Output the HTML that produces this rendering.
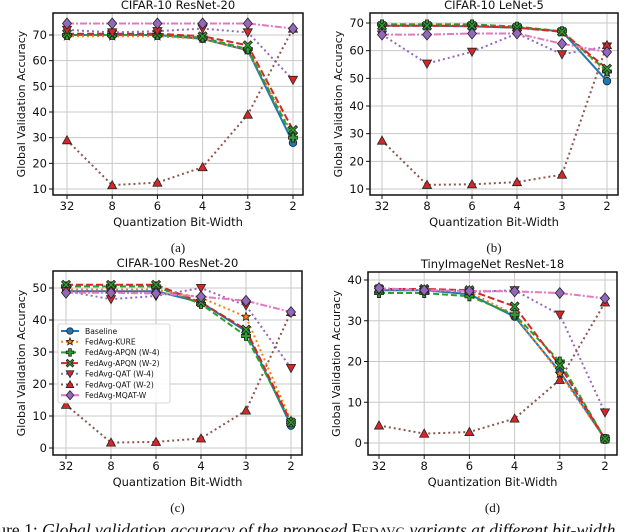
<!DOCTYPE html>
<html><head><meta charset="utf-8"><style>
html,body{margin:0;padding:0;background:#fff;width:640px;height:532px;overflow:hidden}
svg{display:block}
text{font-family:"DejaVu Sans","Liberation Sans",sans-serif;fill:#111}
.serif{font-family:"Liberation Serif",serif}
</style></head><body>
<svg id="fig" width="640" height="532" viewBox="0 0 640 532" xmlns="http://www.w3.org/2000/svg"></svg>
<script>
const categories = ["32","8","6","4","3","2"];
const seriesNames = ["Baseline","FedAvg-KURE","FedAvg-APQN (W-4)","FedAvg-APQN (W-2)","FedAvg-QAT (W-4)","FedAvg-QAT (W-2)","FedAvg-MQAT-W"];
// (a) CIFAR-10 ResNet-20
const aBaseline = [70,70,70,68.5,64,28];
const aKure = [69.5,69.5,69.5,68.5,64,31];
const aApqn4 = [70,70,70,69,64.5,30];
const aApqn2 = [70.5,70.5,70.5,69.5,66,33];
const aQat4 = [72,71,71.5,72.5,71,52.5];
const aQat2 = [29,11.5,12.5,18.5,39,72.5];
const aMqat = [74.5,74.5,74.5,74.5,74.5,72.5];
const aTicks = [10,20,30,40,50,60,70];
// (b) CIFAR-10 LeNet-5
const bBaseline = [69,69,68.8,68.3,67,49];
const bKure = [69,69,69,68.5,67,52];
const bApqn4 = [69.5,69.5,69.5,68.7,67,52.5];
const bApqn2 = [69,69,69,68.3,66.8,53.5];
const bQat4 = [65.8,55.3,59.6,66.2,58.7,61.5];
const bQat2 = [27.5,11.5,11.7,12.5,15.2,62];
const bMqat = [65.8,65.8,66.2,66.2,62.5,59.5];
const bTicks = [10,20,30,40,50,60,70];
// (c) CIFAR-100 ResNet-20
const cBaseline = [49,49,49,45.5,36.5,7];
const cKure = [49.5,49.5,49.5,47,41,8.5];
const cApqn4 = [50.5,50.5,50.5,45,35,8];
const cApqn2 = [51,51,51,45.5,37,8];
const cQat4 = [49,46.5,47.5,50,44.5,25];
const cQat2 = [13.5,1.7,1.9,3,11.7,42.5];
const cMqat = [48.5,48.5,48.3,47.3,46,42.5];
const cTicks = [0,10,20,30,40,50];
// (d) TinyImageNet ResNet-18
const dBaseline = [37.5,37.5,36.5,31,17.5,1];
const dKure = [37.5,37.5,37,31.5,17,1];
const dApqn4 = [36.8,36.8,36,31.5,20,1];
const dApqn2 = [37.8,37.8,37.5,33.5,19,1];
const dQat4 = [37.5,37.5,37,37.5,31.5,7.5];
const dQat2 = [4.3,2.3,2.7,6,15.5,34.5];
const dMqat = [38,37.5,37.3,37.2,36.8,35.5];
const dTicks = [0,10,20,30,40];

const NS="http://www.w3.org/2000/svg";
const svg=document.getElementById('fig');
function el(tag,attrs,parent){const e=document.createElementNS(NS,tag);for(const k in attrs)e.setAttribute(k,attrs[k]);(parent||svg).appendChild(e);return e;}

const styles=[
 {c:"#1f77b4",dash:"",m:"circle",f:"#1f77b4"},
 {c:"#ff7f0e",dash:"2,3",m:"star",f:"#ff7f0e"},
 {c:"#2ca02c",dash:"6,3",m:"plus",f:"#2ca02c"},
 {c:"#d62728",dash:"7,3",m:"x",f:"#2ca02c"},
 {c:"#9467bd",dash:"2,3",m:"tdown",f:"#d62728"},
 {c:"#8c564b",dash:"2,3",m:"tup",f:"#d62728"},
 {c:"#e377c2",dash:"7,2,2,2",m:"diamond",f:"#9467bd"}
];
function marker(g,type,x,y,fill,s){
 s=s||4.5;let d;
 const a={fill:fill,stroke:"#222","stroke-width":0.8};
 if(type==="circle"){a.cx=x;a.cy=y;a.r=s*0.85;return el('circle',a,g);}
 if(type==="diamond")d=`M${x},${y-s*1.2}L${x+s},${y}L${x},${y+s*1.2}L${x-s},${y}Z`;
 else if(type==="tup")d=`M${x},${y-s}L${x+s},${y+s*0.8}L${x-s},${y+s*0.8}Z`;
 else if(type==="tdown")d=`M${x},${y+s}L${x+s},${y-s*0.8}L${x-s},${y-s*0.8}Z`;
 else if(type==="star"){d="";for(let i=0;i<10;i++){const r=i%2?s*0.45:s;const an=-Math.PI/2+i*Math.PI/5;d+=(i?"L":"M")+(x+r*Math.cos(an)).toFixed(2)+","+(y+r*Math.sin(an)).toFixed(2);}d+="Z";}
 else if(type==="plus"){const t=s*0.35;d=`M${x-t},${y-s}H${x+t}V${y-t}H${x+s}V${y+t}H${x+t}V${y+s}H${x-t}V${y+t}H${x-s}V${y-t}H${x-t}Z`;}
 else if(type==="x"){const t=s*0.35,u=s;d=`M${x-u},${y-u+t}L${x-u+t},${y-u}L${x},${y-t}L${x+u-t},${y-u}L${x+u},${y-u+t}L${x+t},${y}L${x+u},${y+u-t}L${x+u-t},${y+u}L${x},${y+t}L${x-u+t},${y+u}L${x-u},${y+u-t}L${x-t},${y}Z`;}
 a.d=d;return el('path',a,g);
}

function plot(cfg){
 const g=el('g',{});
 
 
 const {L,R,T,B,x0,x1,yv0,yp0,yv1,yp1}=cfg;
 const xs=i=>x0+(x1-x0)*i/(categories.length-1);
 const ys=v=>yp0+(v-yv0)*(yp1-yp0)/(yv1-yv0);
 cfg.ticks.forEach(t=>{const y=ys(t);el('line',{x1:L,x2:R,y1:y,y2:y,stroke:"#c8c8c8","stroke-width":1},g);
  el('line',{x1:L-4,x2:L,y1:y,y2:y,stroke:"#111","stroke-width":1},g);
  const tx=el('text',{x:L-6,y:y+4,"text-anchor":"end","font-size":11.5},g);tx.textContent=t;
  });
 categories.forEach((c,i)=>{const x=xs(i);el('line',{x1:x,x2:x,y1:T,y2:B,stroke:"#c8c8c8","stroke-width":1},g);
  el('line',{x1:x,x2:x,y1:B,y2:B+4,stroke:"#111","stroke-width":1},g);
  const tx=el('text',{x:x,y:B+15,"text-anchor":"middle","font-size":11.5},g);tx.textContent=c;
  });
 cfg.series.forEach((vals,si)=>{const st=styles[si];
  const pts=vals.map((v,i)=>xs(i)+","+ys(v)).join(" ");
  const pl=el('polyline',{points:pts,fill:"none",stroke:st.c,"stroke-width":2,"stroke-dasharray":st.dash},g);
  
  
 });
 cfg.series.forEach((vals,si)=>{const st=styles[si];
  vals.forEach((v,i)=>{const m=marker(g,st.m,xs(i),ys(v),st.f);
   
   });
 });
 el('rect',{x:L,y:T,width:R-L,height:B-T,fill:"none",stroke:"#111","stroke-width":1.5},g);
 const tt=el('text',{x:(L+R)/2,y:T-4,"text-anchor":"middle","font-size":11.5},g);tt.textContent=cfg.title;
 
 const xl=el('text',{x:(L+R)/2,y:B+31,"text-anchor":"middle","font-size":11.5},g);xl.textContent="Quantization Bit-Width";
 
 const yl=el('text',{x:0,y:0,"text-anchor":"middle","font-size":11,transform:`translate(${L-28},${(T+B)/2}) rotate(-90)`},g);yl.textContent="Global Validation Accuracy";
 
 const sc=el('text',{x:(L+R)/2,y:cfg.cap,"text-anchor":"middle","font-size":13,class:"serif"},g);sc.textContent=cfg.sub;
 
 if(cfg.legend){
  const lg=el('g',{},g);
  
  el('rect',{x:58,y:324,width:112,height:79,fill:"#fff","fill-opacity":0.85,stroke:"#ccc","stroke-width":0.8,rx:2},lg);
  seriesNames.forEach((n,i)=>{const y=331+i*10.7;const st=styles[i];
   const it=el('g',{},lg);
   
   
   el('line',{x1:61,x2:79,y1:y,y2:y,stroke:st.c,"stroke-width":2,"stroke-dasharray":st.dash},it);
   marker(it,st.m,70,y,st.f,3.8);
   const t=el('text',{x:85,y:y+2.8,"font-size":7.6},it);t.textContent=n;});
 }
}
plot({name:"chart-cifar10-resnet20",L:53,R:303,T:13,B:195,x0:67,x1:293,yv0:10,yp0:189,yv1:70,yp1:35,ticks:aTicks,title:"CIFAR-10 ResNet-20",sub:"(a)",cap:252,
 series:[aBaseline,aKure,aApqn4,aApqn2,aQat4,aQat2,aMqat]});
plot({name:"chart-cifar10-lenet5",L:370,R:618,T:13,B:195,x0:382,x1:607,yv0:10,yp0:189,yv1:70,yp1:23,ticks:bTicks,title:"CIFAR-10 LeNet-5",sub:"(b)",cap:252,
 series:[bBaseline,bKure,bApqn4,bApqn2,bQat4,bQat2,bMqat]});
plot({name:"chart-cifar100-resnet20",L:53,R:302,T:271,B:455,x0:66,x1:291,yv0:0,yp0:448,yv1:50,yp1:288,ticks:cTicks,title:"CIFAR-100 ResNet-20",sub:"(c)",cap:512,legend:true,
 series:[cBaseline,cKure,cApqn4,cApqn2,cQat4,cQat2,cMqat]});
plot({name:"chart-tinyimagenet-resnet18",L:368,R:617,T:272,B:455,x0:379,x1:605,yv0:0,yp0:443,yv1:40,yp1:280,ticks:dTicks,title:"TinyImageNet ResNet-18",sub:"(d)",cap:512,
 series:[dBaseline,dKure,dApqn4,dApqn2,dQat4,dQat2,dMqat]});
const cap=el('text',{x:-26,y:536,"font-size":17.5,class:"serif"});


cap.innerHTML='Figure 1: <tspan font-style="italic">Global validation accuracy of the proposed </tspan>F<tspan font-size="13">EDAVG</tspan><tspan font-style="italic"> variants at different bit-width</tspan>';
</script>
</body></html>
